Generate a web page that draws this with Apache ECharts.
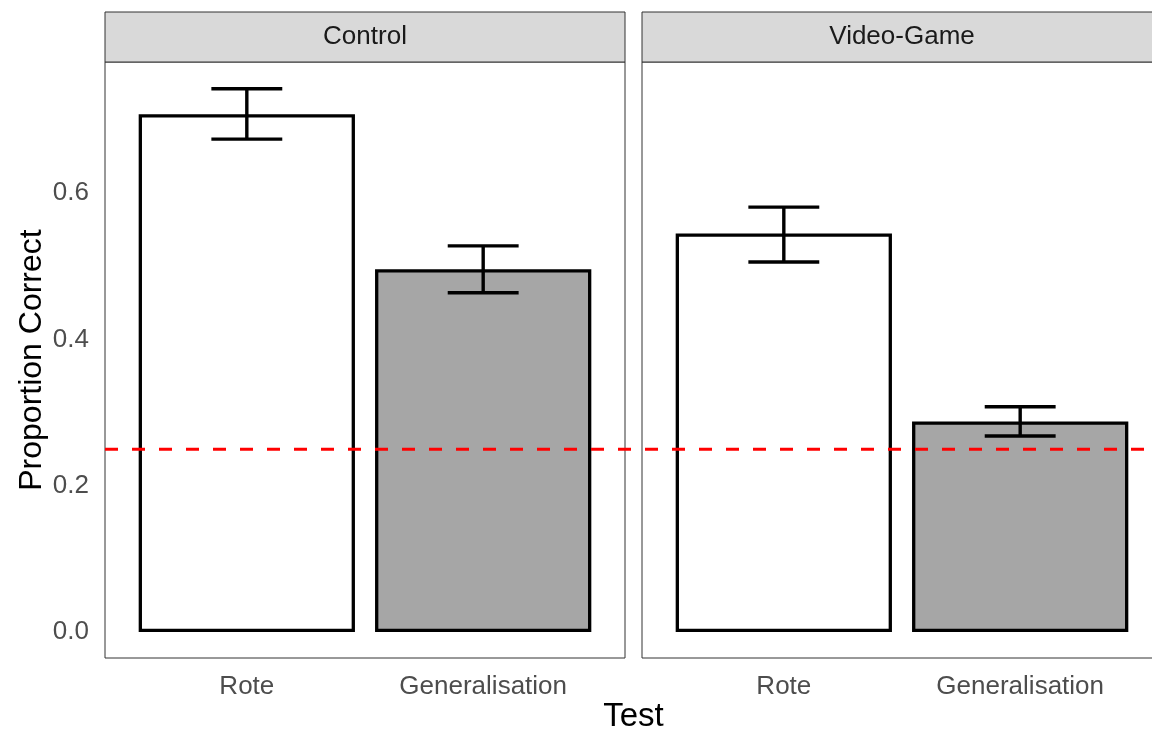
<!DOCTYPE html>
<html>
<head>
<meta charset="utf-8">
<script src="https://cdn.jsdelivr.net/npm/echarts@6/dist/echarts.min.js"></script>
<style>
  html, body { margin: 0; padding: 0; background: #ffffff; overflow: hidden; width: 1152px; height: 735px; }
  #chart { width: 1162px; height: 735px; }
</style>
</head>
<body>
<div id="chart"></div>
<script>
// ---------- data ----------
const categories = ['Rote', 'Generalisation'];
const panels = ['Control', 'Video-Game'];
const controlMeans = [0.708, 0.496];
const controlLower = [0.674, 0.464];
const controlUpper = [0.743, 0.528];
const videoGameMeans = [0.545, 0.288];
const videoGameLower = [0.506, 0.268];
const videoGameUpper = [0.581, 0.308];
const yTicks = [0, 0.2, 0.4, 0.6];
const chanceLevel = 0.25;

// ---------- styling / layout ----------
const FONT = "'Liberation Sans', Arial, sans-serif";
const barFills = ['#ffffff', '#a6a6a6'];
const panelLefts = [105, 642];
const panelWidth = 520;
const panelTop = 62;
const panelHeight = 596;
const stripTop = 12;
const stripHeight = 50;
const xMin = 0.4, xMax = 2.6;
const barWidthPx = 0.915 * panelWidth / (xMax - xMin);
const capHalf = 0.15;
const yMin = -0.0355;
const yMax = 0.7795;

const meansByPanel = [controlMeans, videoGameMeans];
const lowerByPanel = [controlLower, videoGameLower];
const upperByPanel = [controlUpper, videoGameUpper];

const grids = [];
const xAxes = [];
const yAxes = [];
const series = [];

panelLefts.forEach(function (left, p) {
  grids.push({
    left: left, top: panelTop, width: panelWidth, height: panelHeight,
    show: true, borderColor: '#333333', borderWidth: 1, backgroundColor: 'transparent',
    containLabel: false, outerBoundsMode: 'none'
  });
  xAxes.push({
    type: 'value', gridIndex: p, min: xMin, max: xMax,
    axisLine: { show: false }, splitLine: { show: false },
    axisTick: { show: false },
    axisLabel: {
      show: true, customValues: [1, 2], margin: 16,
      formatter: function (v) { return categories[Math.round(v) - 1] || ''; },
      color: '#4d4d4d', fontSize: 26, fontFamily: FONT
    }
  });
  yAxes.push({
    type: 'value', gridIndex: p, min: yMin, max: yMax,
    axisLine: { show: false }, splitLine: { show: false },
    axisTick: { show: false },
    axisLabel: {
      show: p === 0, customValues: yTicks, margin: 16,
      formatter: function (v) { return v.toFixed(1); },
      color: '#4d4d4d', fontSize: 26, fontFamily: FONT
    },
    name: p === 0 ? 'Proportion Correct' : '',
    nameLocation: 'middle', nameRotate: 90, nameGap: 57,
    nameTextStyle: { color: '#000000', fontSize: 32, fontFamily: FONT }
  });

  const means = meansByPanel[p];
  series.push({
    type: 'bar', xAxisIndex: p, yAxisIndex: p,
    barWidth: barWidthPx,
    data: means.map(function (m, i) {
      return { value: [i + 1, m], itemStyle: { color: barFills[i] } };
    }),
    itemStyle: { borderColor: '#000000', borderWidth: 3.3 },
    z: 2
  });

  series.push({
    type: 'custom', xAxisIndex: p, yAxisIndex: p,
    data: means.map(function (m, i) { return [i + 1, lowerByPanel[p][i], upperByPanel[p][i]]; }),
    encode: { x: 0, y: [1, 2] },
    renderItem: function (params, api) {
      const x = api.value(0), lo = api.value(1), hi = api.value(2);
      const top = api.coord([x, hi]);
      const bot = api.coord([x, lo]);
      const l = api.coord([x - capHalf, hi])[0];
      const r = api.coord([x + capHalf, hi])[0];
      const st = { stroke: '#000000', lineWidth: 3.4 };
      return {
        type: 'group',
        children: [
          { type: 'line', shape: { x1: top[0], y1: top[1], x2: bot[0], y2: bot[1] }, style: st },
          { type: 'line', shape: { x1: l, y1: top[1], x2: r, y2: top[1] }, style: st },
          { type: 'line', shape: { x1: l, y1: bot[1], x2: r, y2: bot[1] }, style: st }
        ]
      };
    },
    z: 3
  });
});

// full-width overlay grid for the chance line and the shared x title
const overlayIndex = 2;
const overlayLeft = panelLefts[0];
const overlayWidth = panelLefts[1] + panelWidth - panelLefts[0];
grids.push({
  left: overlayLeft, top: panelTop, width: overlayWidth, height: panelHeight,
  show: false, containLabel: false, outerBoundsMode: 'none'
});
xAxes.push({
  type: 'value', gridIndex: overlayIndex, min: 0, max: 1,
  axisLine: { show: false }, axisTick: { show: false }, axisLabel: { show: false }, splitLine: { show: false },
  name: 'Test', nameLocation: 'middle', nameGap: 42,
  nameTextStyle: { color: '#000000', fontSize: 33, fontFamily: FONT }
});
yAxes.push({
  type: 'value', gridIndex: overlayIndex, min: yMin, max: yMax,
  axisLine: { show: false }, axisTick: { show: false }, axisLabel: { show: false }, splitLine: { show: false }
});
series.push({
  type: 'line', xAxisIndex: overlayIndex, yAxisIndex: overlayIndex,
  data: [[0, chanceLevel], [1, chanceLevel]],
  symbol: 'none', silent: true,
  lineStyle: { color: '#ff0000', width: 3, type: [13, 14] },
  z: 10
});

// facet strips
const graphics = [];
panels.forEach(function (name, p) {
  graphics.push({
    type: 'rect',
    shape: { x: panelLefts[p], y: stripTop, width: panelWidth, height: stripHeight },
    style: { fill: '#d9d9d9', stroke: '#333333', lineWidth: 1 },
    z: 1
  });
  graphics.push({
    type: 'text',
    x: panelLefts[p] + panelWidth / 2, y: stripTop + stripHeight / 2,
    style: {
      text: name, fill: '#1a1a1a', fontSize: 26, fontFamily: FONT,
      align: 'center', verticalAlign: 'middle'
    },
    z: 2
  });
});

const chart = echarts.init(document.getElementById('chart'), null, { renderer: 'canvas' });
chart.setOption({
  animation: false,
  backgroundColor: '#ffffff',
  grid: grids,
  xAxis: xAxes,
  yAxis: yAxes,
  series: series,
  graphic: graphics
});
</script>
</body>
</html>
